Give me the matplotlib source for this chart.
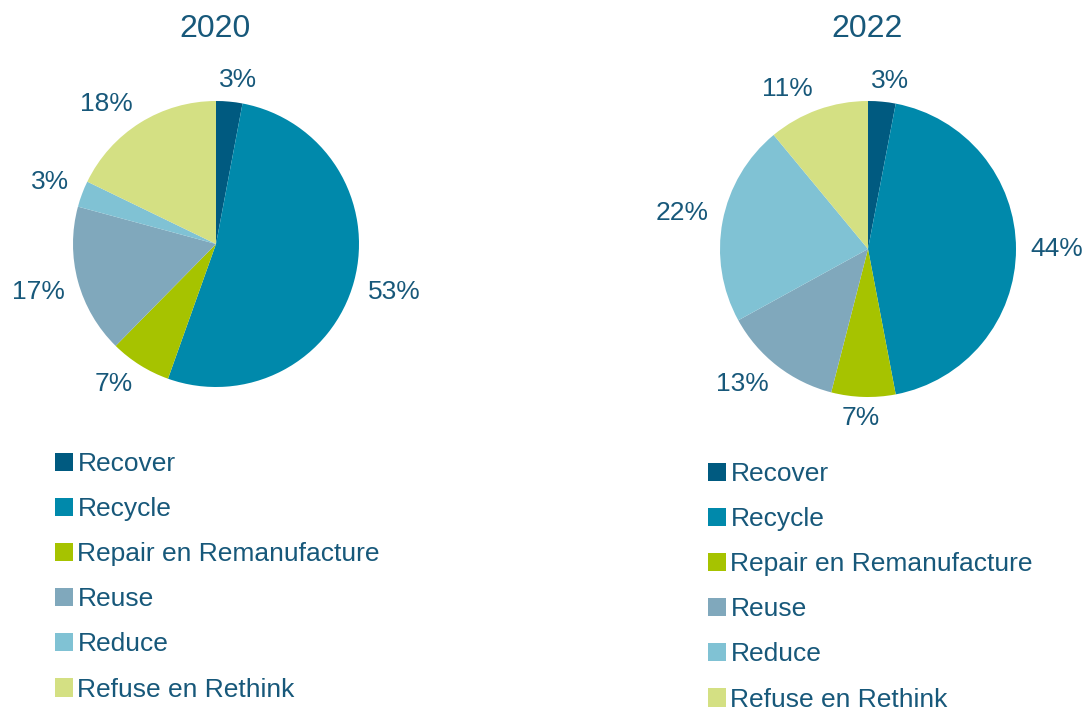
import numpy as np
import matplotlib.pyplot as plt
from matplotlib.patches import Patch

plt.rcParams['font.family'] = ['Liberation Sans', 'DejaVu Sans']

categories = ["Recover", "Recycle", "Repair en Remanufacture", "Reuse", "Reduce", "Refuse en Rethink"]
values_2020 = [3, 53, 7, 17, 3, 18]
values_2022 = [3, 44, 7, 13, 22, 11]
colors = ["#005a80", "#0089ab", "#a6c300", "#80a8bc", "#80c2d4", "#d4e083"]
text_color = "#17587a"

W, H = 1086, 711
fig = plt.figure(figsize=(W / 100, H / 100), dpi=100)


def pie_axes(cx, cy, r, k=1.5):
    # place an axes so the unit pie lands at pixel centre (cx, cy) with radius r
    size = 2 * r * k
    ax = fig.add_axes([(cx - size / 2) / W, (H - cy - size / 2) / H, size / W, size / H])
    return ax, k


def draw(ax, k, vals):
    labels = ["{}%".format(v) for v in vals]
    wedges, texts = ax.pie(vals, colors=colors, startangle=90, counterclock=False,
                           labels=labels, labeldistance=1.2,
                           wedgeprops=dict(linewidth=0),
                           textprops=dict(color=text_color, fontsize=19))
    for t in texts:
        t.set_horizontalalignment('center')
        t.set_verticalalignment('center')
    ax.set_xlim(-k, k)
    ax.set_ylim(-k, k)
    ax.set_aspect('equal')
    ax.axis('off')
    return wedges, texts


def place_labels(wedges, texts, r_px, gap=14):
    # Excel-like outside labels: the box sits just off the rim, pushed to the side
    renderer = fig.canvas.get_renderer()
    for w, t in zip(wedges, texts):
        th = np.deg2rad((w.theta1 + w.theta2) / 2)
        c, s = np.cos(th), np.sin(th)
        bb = t.get_window_extent(renderer)
        px = (r_px + gap) * c + np.clip(c * 4, -1, 1) * bb.width / 2
        py = (r_px + gap) * s + np.clip(s * 4, -1, 1) * bb.height * 0.3
        t.set_position((px / r_px, py / r_px))


ax1, k1 = pie_axes(216, 244, 143)
w1, t1 = draw(ax1, k1, values_2020)
fig.text(215 / W, 1 - 29 / H, "2020", color=text_color, fontsize=23, ha='center', va='center')

ax2, k2 = pie_axes(868, 249, 148)
w2, t2 = draw(ax2, k2, values_2022)
fig.text(867 / W, 1 - 29 / H, "2022", color=text_color, fontsize=23, ha='center', va='center')

fig.canvas.draw()
place_labels(w1, t1, 143)
place_labels(w2, t2, 148)

handles = [Patch(facecolor=c, edgecolor='none') for c in colors]
for x0, y0 in [(55, 452), (708, 462)]:
    fig.legend(handles, categories, loc='upper left', bbox_to_anchor=(x0 / W, 1 - y0 / H),
               frameon=False, fontsize=19, labelcolor=text_color,
               handlelength=0.7, handleheight=0.7, handletextpad=0.15,
               labelspacing=0.8, borderpad=0, borderaxespad=0)

fig.savefig("out.png", dpi=100, facecolor='white')
